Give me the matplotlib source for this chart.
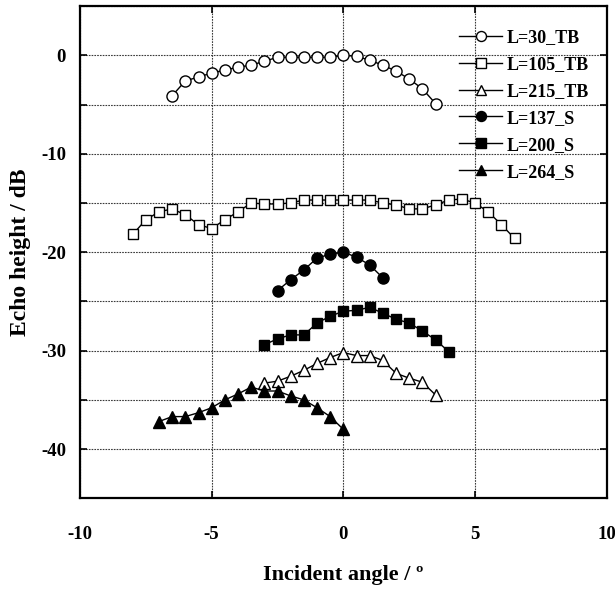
import matplotlib
matplotlib.use("Agg")
import matplotlib.pyplot as plt
import numpy as np
from matplotlib.ticker import MultipleLocator, FuncFormatter

plt.rcParams['font.family'] = ['Liberation Serif', 'DejaVu Serif']
plt.rcParams['font.weight'] = 'bold'

# ---- data ----
x_30tb = [-6.5, -6.0, -5.5, -5.0, -4.5, -4.0, -3.5, -3.0, -2.5, -2.0, -1.5, -1.0, -0.5, 0.0,
          0.5, 1.0, 1.5, 2.0, 2.5, 3.0, 3.5]
y_30tb = [-4.1, -2.6, -2.2, -1.8, -1.5, -1.2, -1.0, -0.6, -0.2, -0.2, -0.2, -0.2, -0.2, 0.0,
          -0.1, -0.5, -1.0, -1.6, -2.4, -3.4, -4.9]

x_105tb = [-8.0, -7.5, -7.0, -6.5, -6.0, -5.5, -5.0, -4.5, -4.0, -3.5, -3.0, -2.5, -2.0, -1.5,
           -1.0, -0.5, 0.0, 0.5, 1.0, 1.5, 2.0, 2.5, 3.0, 3.5, 4.0, 4.5, 5.0, 5.5, 6.0, 6.5]
y_105tb = [-18.2, -16.7, -15.9, -15.6, -16.2, -17.2, -17.6, -16.7, -15.9, -15.0, -15.1, -15.1,
           -15.0, -14.7, -14.7, -14.7, -14.7, -14.7, -14.7, -15.0, -15.2, -15.6, -15.6, -15.2,
           -14.7, -14.6, -15.0, -15.9, -17.2, -18.6]

x_215tb = [-3.0, -2.5, -2.0, -1.5, -1.0, -0.5, 0.0, 0.5, 1.0, 1.5, 2.0, 2.5, 3.0, 3.5]
y_215tb = [-33.3, -33.1, -32.6, -32.0, -31.3, -30.7, -30.2, -30.5, -30.5, -31.0, -32.3, -32.8,
           -33.2, -34.5]

x_137s = [-2.5, -2.0, -1.5, -1.0, -0.5, 0.0, 0.5, 1.0, 1.5]
y_137s = [-23.9, -22.8, -21.8, -20.6, -20.2, -20.0, -20.5, -21.3, -22.6]

x_200s = [-3.0, -2.5, -2.0, -1.5, -1.0, -0.5, 0.0, 0.5, 1.0, 1.5, 2.0, 2.5, 3.0, 3.5, 4.0]
y_200s = [-29.4, -28.8, -28.4, -28.4, -27.2, -26.5, -26.0, -25.9, -25.6, -26.2, -26.8, -27.2,
          -28.0, -28.9, -30.1]

x_264s = [-7.0, -6.5, -6.0, -5.5, -5.0, -4.5, -4.0, -3.5, -3.0, -2.5, -2.0, -1.5, -1.0, -0.5, 0.0]
y_264s = [-37.2, -36.7, -36.7, -36.3, -35.8, -35.0, -34.4, -33.7, -34.1, -34.1, -34.6, -35.0,
          -35.8, -36.7, -38.0]

labels = ['L=30_TB', 'L=105_TB', 'L=215_TB', 'L=137_S', 'L=200_S', 'L=264_S']

W, H = 615, 592
fig = plt.figure(figsize=(W / 100, H / 100), dpi=100)
ax = fig.add_axes([80 / W, 1 - 498.3 / H, (606.7 - 80) / W, (498.3 - 6.1) / H])

common = dict(color='black', lw=1.0, markeredgecolor='black', markeredgewidth=1.0, zorder=3)
ax.plot(x_30tb, y_30tb, marker='o', ms=8, mfc='white', label=labels[0], **common)
ax.plot(x_105tb, y_105tb, marker='s', ms=7.5, mfc='white', label=labels[1], **common)
ax.plot(x_215tb, y_215tb, marker='^', ms=8.5, mfc='white', label=labels[2], **common)
ax.plot(x_137s, y_137s, marker='o', ms=8, mfc='black', label=labels[3], **common)
ax.plot(x_200s, y_200s, marker='s', ms=7.5, mfc='black', label=labels[4], **common)
ax.plot(x_264s, y_264s, marker='^', ms=8.5, mfc='black', label=labels[5], **common)

ax.set_xlim(-10, 10)
ax.set_ylim(-45, 5)
ax.xaxis.set_major_locator(MultipleLocator(5))
ax.yaxis.set_major_locator(MultipleLocator(5))
ax.yaxis.set_major_formatter(FuncFormatter(lambda v, p: f"{int(round(v))}" if round(v) % 10 == 0 else ""))
ax.xaxis.set_major_formatter(FuncFormatter(lambda v, p: f"{int(round(v))}"))

ax.tick_params(direction='in', length=5, width=1.2, top=True, right=True, labelsize=13.5)
ax.tick_params(axis='x', pad=20)
ax.tick_params(axis='y', pad=10)
for lab in ax.get_xticklabels() + ax.get_yticklabels():
    lab.set_fontweight('bold')

for s in ax.spines.values():
    s.set_linewidth(1.6)

ax.grid(True, which='major', color='#3a3a3a', linestyle=(0, (1.5, 1.0)), linewidth=0.8, zorder=0)
ax.set_axisbelow(True)

ax.set_xlabel('Incident angle / º', fontsize=16, fontweight='bold', labelpad=16)
ax.set_ylabel('Echo height / dB', fontsize=17, fontweight='bold', labelpad=7)

leg = ax.legend(loc='upper left', bbox_to_anchor=(459 / W, 1 - 29 / H),
                bbox_transform=fig.transFigure, frameon=False, fontsize=13,
                handlelength=2.4, handletextpad=0.25, labelspacing=0.55,
                borderpad=0, borderaxespad=0, markerscale=0.9)
for t in leg.get_texts():
    t.set_fontweight('bold')

fig.savefig('out.png', dpi=100)
